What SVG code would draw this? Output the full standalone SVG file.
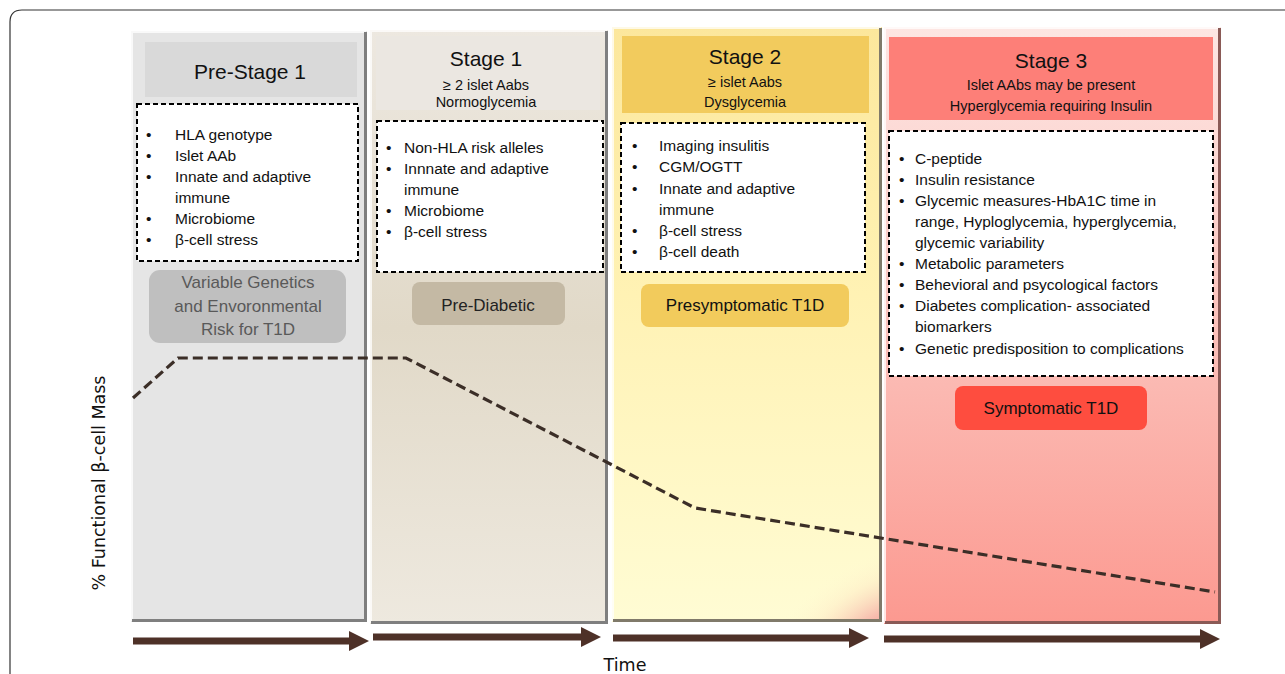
<svg xmlns="http://www.w3.org/2000/svg" width="1285" height="674" viewBox="0 0 1285 674">
<style>
.col{stroke:none}
.hl{fill:none;stroke:#ffffff;stroke-opacity:.75;stroke-width:2}
.sh{fill:none;stroke:#7f7f7f;stroke-width:3}
.dash{fill:#ffffff;stroke:#000000;stroke-width:2;stroke-dasharray:5 3}
.t{font-family:"Liberation Sans",Arial,sans-serif;fill:#111111}
.b{font-size:15.5px}
.h{font-size:21px}
.s{font-size:14.5px}
.lab{font-size:17px;text-anchor:middle}
.mid{text-anchor:middle}
.ax{font-family:"DejaVu Sans",Verdana,sans-serif;font-size:17.5px;fill:#111111}
.arr{fill:#4e3128}
</style>
<defs>
<linearGradient id="g2" x1="0" y1="0" x2="0" y2="1">
<stop offset="0" stop-color="#ede8e0"/>
<stop offset="0.5" stop-color="#e1d9c8"/>
<stop offset="1" stop-color="#eee9df"/>
</linearGradient>
<linearGradient id="g3" x1="0" y1="0" x2="0" y2="1">
<stop offset="0" stop-color="#fce79c"/>
<stop offset="0.45" stop-color="#fff2b4"/>
<stop offset="1" stop-color="#fffcd4"/>
</linearGradient>
<radialGradient id="g3r" gradientUnits="userSpaceOnUse" cx="0" cy="0" r="1" gradientTransform="translate(892,642) rotate(-28) scale(150,90)">
<stop offset="0" stop-color="#ee7f7d"/>
<stop offset="0.35" stop-color="#f5aea6" stop-opacity="0.8"/>
<stop offset="0.7" stop-color="#fde4c2" stop-opacity="0.35"/>
<stop offset="1" stop-color="#fffcd4" stop-opacity="0"/>
</radialGradient>
<linearGradient id="g4" x1="0" y1="0" x2="0" y2="1">
<stop offset="0" stop-color="#fde6e3"/>
<stop offset="0.3" stop-color="#fcd2cd"/>
<stop offset="0.6" stop-color="#fbb9b2"/>
<stop offset="1" stop-color="#fc9990"/>
</linearGradient>
</defs>

<path d="M10,674 L10,22 Q10,10 22,10 L1285,10" fill="none" stroke="#333333" stroke-width="1.2"/>

<g id="col-prestage1">
<rect class="col" x="131" y="31" width="236" height="591" fill="#e5e5e5"/>
<polyline class="hl" points="132,621 132,32 366,32"/>
<polyline class="sh" points="132,620.5 365.5,620.5 365.5,32"/>
<rect x="145" y="42" width="212" height="55" fill="#d9d9d9"/>
<text class="t h mid" x="250" y="79">Pre-Stage 1</text>
<rect class="dash" x="137" y="104" width="221" height="157"/>
<g class="t b">
<text x="146" y="140">•</text><text x="175" y="140">HLA genotype</text>
<text x="146" y="161">•</text><text x="175" y="161">Islet AAb</text>
<text x="146" y="182">•</text><text x="175" y="182">Innate and adaptive</text>
<text x="175" y="203">immune</text>
<text x="146" y="224">•</text><text x="175" y="224">Microbiome</text>
<text x="146" y="245">•</text><text x="175" y="245">β-cell stress</text>
</g>
<rect x="149" y="270" width="197" height="73" rx="11" fill="#bfbfbf"/>
<g class="t lab" style="fill:#595959">
<text x="248" y="288">Variable Genetics</text>
<text x="248" y="312">and Envoronmental</text>
<text x="248" y="335">Risk for T1D</text>
</g>
</g>

<g id="col-stage1">
<rect class="col" x="370" y="30" width="238" height="594" fill="url(#g2)"/>
<polyline class="hl" points="371,623 371,31 607,31"/>
<polyline class="sh" points="371,622.5 606.5,622.5 606.5,31"/>
<rect x="376" y="36" width="224" height="74" fill="#ebe7e1"/>
<text class="t h mid" x="486" y="66">Stage 1</text>
<text class="t s mid" x="486" y="90">≥ 2 islet Aabs</text>
<text class="t s mid" x="486" y="107">Normoglycemia</text>
<rect class="dash" x="377" y="121" width="226" height="151"/>
<g class="t b">
<text x="386" y="153">•</text><text x="404" y="153">Non-HLA risk alleles</text>
<text x="386" y="174">•</text><text x="404" y="174">Innnate and adaptive</text>
<text x="404" y="195">immune</text>
<text x="386" y="216">•</text><text x="404" y="216">Microbiome</text>
<text x="386" y="237">•</text><text x="404" y="237">β-cell stress</text>
</g>
<rect x="412" y="282" width="153" height="43" rx="8" fill="#c4b9a4"/>
<text class="t lab" x="488" y="311" style="fill:#222222">Pre-Diabetic</text>
</g>

<g id="col-stage2">
<rect class="col" x="612" y="27" width="270" height="595" fill="url(#g3)"/>
<rect class="col" x="612" y="27" width="270" height="595" fill="url(#g3r)"/>
<polyline class="hl" points="613,621 613,28 881,28"/>
<polyline class="sh" points="613,620.5 880.5,620.5 880.5,28" style="stroke:#807a6a"/>
<rect x="622" y="36" width="247" height="77" fill="#f2cb5d"/>
<text class="t h mid" x="745" y="64">Stage 2</text>
<text class="t s mid" x="745" y="87">≥ islet Aabs</text>
<text class="t s mid" x="745" y="107">Dysglycemia</text>
<rect class="dash" x="621" y="123" width="244" height="149"/>
<g class="t b">
<text x="632" y="151">•</text><text x="659" y="151">Imaging insulitis</text>
<text x="632" y="172">•</text><text x="659" y="172">CGM/OGTT</text>
<text x="632" y="194">•</text><text x="659" y="194">Innate and adaptive</text>
<text x="659" y="215">immune</text>
<text x="632" y="236">•</text><text x="659" y="236">β-cell stress</text>
<text x="632" y="257">•</text><text x="659" y="257">β-cell death</text>
</g>
<rect x="641" y="284" width="208" height="43" rx="8" fill="#f2cb5c"/>
<text class="t lab" x="745" y="311">Presymptomatic T1D</text>
</g>

<g id="col-stage3">
<rect class="col" x="884" y="27" width="337" height="597" fill="url(#g4)"/>
<polyline class="hl" points="885,623 885,28 1220,28"/>
<polyline class="sh" points="885,622.5 1219.5,622.5 1219.5,28" style="stroke:#8a5a56"/>
<rect x="889" y="37" width="324" height="83" fill="#fd7f78"/>
<text class="t h mid" x="1051" y="68">Stage 3</text>
<text class="t s mid" x="1051" y="90">Islet AAbs may be present</text>
<text class="t s mid" x="1051" y="111">Hyperglycemia requiring Insulin</text>
<rect class="dash" x="889" y="131" width="324" height="245"/>
<g class="t b">
<text x="899" y="164">•</text><text x="915" y="164">C-peptide</text>
<text x="899" y="185">•</text><text x="915" y="185">Insulin resistance</text>
<text x="899" y="206">•</text><text x="915" y="206">Glycemic measures-HbA1C time in</text>
<text x="915" y="227">range, Hyploglycemia, hyperglycemia,</text>
<text x="915" y="248">glycemic variability</text>
<text x="899" y="269">•</text><text x="915" y="269">Metabolic parameters</text>
<text x="899" y="290">•</text><text x="915" y="290">Behevioral and psycological factors</text>
<text x="899" y="311">•</text><text x="915" y="311">Diabetes complication- associated</text>
<text x="915" y="332">biomarkers</text>
<text x="899" y="354">•</text><text x="915" y="354">Genetic predisposition to complications</text>
</g>
<rect x="955" y="386" width="192" height="44" rx="8" fill="#fe4d3f"/>
<text class="t lab" x="1051" y="414">Symptomatic T1D</text>
</g>

<g id="connectors">
<path d="M133,398 L178,358 L406,358 L695,508 L1215,592" fill="none" stroke="#3b2e27" stroke-width="3.2" stroke-dasharray="10 5"/>
<polygon class="arr" points="133,637.5 349,637.5 349,631 369,641 349,651 349,644.5 133,644.5"/>
<polygon class="arr" points="373,633.5 581,633.5 581,627 601,637 581,647 581,640.5 373,640.5"/>
<polygon class="arr" points="613,634.5 849,634.5 849,628 869,638 849,648 849,641.5 613,641.5"/>
<polygon class="arr" points="884,635.5 1200,635.5 1200,629 1220,639 1200,649 1200,642.5 884,642.5"/>
</g>

<text class="ax" transform="translate(105,483) rotate(-90)" text-anchor="middle">% Functional β-cell Mass</text>
<text class="ax" x="625" y="671" text-anchor="middle">Time</text>
</svg>
